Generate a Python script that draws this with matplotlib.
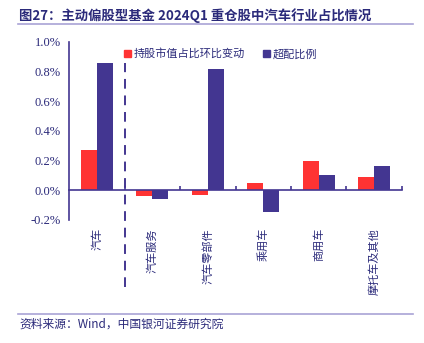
import numpy as np
import matplotlib.pyplot as plt
from matplotlib.ticker import FixedLocator, FuncFormatter
from matplotlib.patches import Rectangle
from matplotlib.lines import Line2D

plt.rcParams['font.family'] = ['Liberation Serif', 'Noto Sans CJK SC', 'DejaVu Sans']

# 数据（单位：%）
categories = ['汽车', '汽车服务', '汽车零部件', '乘用车', '商用车', '摩托车及其他']
hold_change = [0.27, -0.04, -0.03, 0.05, 0.20, 0.09]   # 持股市值占比环比变动
overweight = [0.86, -0.06, 0.82, -0.15, 0.10, 0.16]     # 超配比例
series_names = ['持股市值占比环比变动', '超配比例']

RED = '#ff3333'
BLUE = '#433691'
NAVY = '#2b2a7a'
LINE = '#a9a3d6'
CJK = ['Noto Sans CJK SC', 'DejaVu Sans']

fig = plt.figure(figsize=(4.24, 3.43), dpi=100)
ax = fig.add_axes([0.163, 0.359, 0.785, 0.519])

x = np.arange(len(categories))
w = 0.29
ax.bar(x - w / 2, hold_change, w, color=RED, zorder=2)
ax.bar(x + w / 2, overweight, w, color=BLUE, zorder=2)

ax.set_xlim(-0.5, len(categories) - 0.5)
ax.set_ylim(-0.2, 1.0)

# 坐标轴
for s in ['top', 'right']:
    ax.spines[s].set_visible(False)
ax.spines['bottom'].set_position(('data', 0))
ax.spines['bottom'].set_color(BLUE)
ax.spines['bottom'].set_linewidth(1.2)
ax.spines['bottom'].set_zorder(3)
ax.spines['left'].set_color(BLUE)
ax.spines['left'].set_linewidth(1.2)

ax.xaxis.set_major_locator(FixedLocator(x + 0.5))
ax.tick_params(axis='x', direction='in', length=3, width=1.2, color=BLUE, labelbottom=False)

ax.yaxis.set_major_locator(FixedLocator(np.arange(-0.2, 1.01, 0.2)))
ax.yaxis.set_major_formatter(FuncFormatter(lambda v, p: f'{v:.1f}%'))
ax.yaxis.set_minor_locator(FixedLocator([-0.2, 1.0]))
ax.tick_params(axis='y', which='major', length=0, pad=6, labelsize=9, labelcolor=NAVY)
ax.tick_params(axis='y', which='minor', direction='in', length=4, width=1.2, color=BLUE)

# 类别标签（竖排）
for xi, name in zip(x, categories):
    ax.text(xi, -0.255, name, rotation=90, ha='center', va='top',
            fontsize=8, color=NAVY, family=CJK)

# 汽车与细分行业之间的分隔虚线
ax.axvline(0.5, ymin=-0.376, ymax=0.882, color=BLUE, lw=1.4,
           dashes=(5, 3.5), clip_on=False, zorder=1)

# 图例
handles = [Rectangle((0, 0), 1, 1, color=RED), Rectangle((0, 0), 1, 1, color=BLUE)]
leg = ax.legend(handles, series_names, loc='upper left', bbox_to_anchor=(0.145, 1.0),
                ncol=2, frameon=False, handlelength=0.6, handleheight=0.6,
                handletextpad=0.3, columnspacing=1.6, borderaxespad=0.2,
                prop={'family': CJK, 'size': 8})
for t in leg.get_texts():
    t.set_color(NAVY)

# 标题、分隔线与资料来源
fig.text(0.045, 0.955, '图27：主动偏股型基金 2024Q1 重仓股中汽车行业占比情况',
         fontsize=9.6, fontweight='bold', color=NAVY, family=CJK, va='center')
fig.add_artist(Line2D([0.043, 0.975], [0.93, 0.93], color=LINE, lw=1.2))
fig.add_artist(Line2D([0.043, 0.975], [0.085, 0.085], color=LINE, lw=1.2))
fig.text(0.047, 0.055, '资料来源：Wind，中国银河证券研究院', fontsize=8.5,
         style='italic', color=NAVY, family=CJK, va='center')

plt.savefig('out.png', dpi=100, facecolor='white')
plt.close()
